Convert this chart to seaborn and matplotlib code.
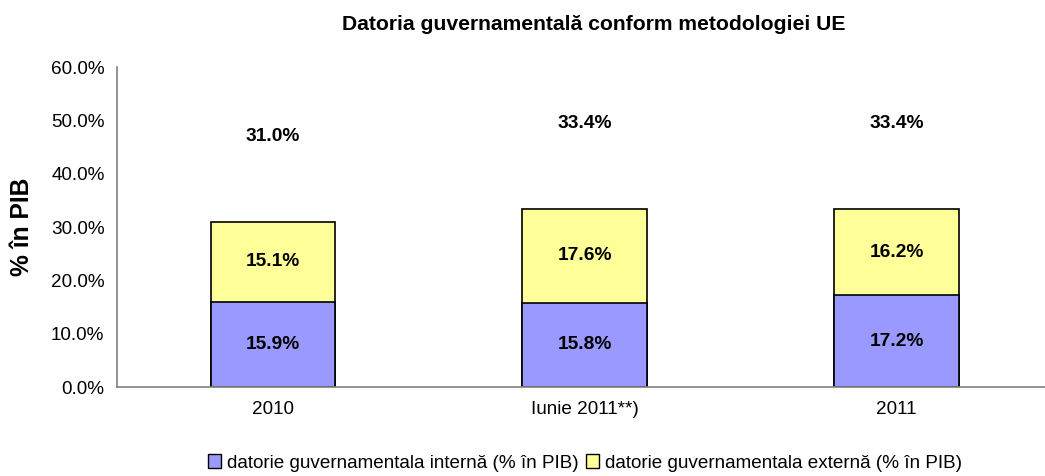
import matplotlib
matplotlib.use('Agg')
import matplotlib.pyplot as plt
import seaborn as sns
import pandas as pd
from matplotlib.patches import Patch
from matplotlib.ticker import FuncFormatter

categories = ['2010', 'Iunie 2011**)', '2011']
interna = [15.9, 15.8, 17.2]
externa = [15.1, 17.6, 16.2]
totals = [31.0, 33.4, 33.4]
series_names = ['datorie guvernamentala internă (% în PIB)',
                'datorie guvernamentala externă (% în PIB)']

sns.set_style('white')
plt.rcParams['font.family'] = ['Liberation Sans', 'DejaVu Sans']
plt.rcParams['text.color'] = 'black'
plt.rcParams['xtick.color'] = 'black'
plt.rcParams['ytick.color'] = 'black'

df = pd.DataFrame({'cat': categories, 'interna': interna,
                   'externa': externa, 'total': totals})

blue = '#9999FF'
yellow = '#FFFF99'

fig = plt.figure(figsize=(10.45, 4.76), dpi=100)
ax = fig.add_axes([117 / 1045, 1 - 387 / 476, 1 - 117 / 1045, (387 - 67) / 476])

# stacked bars: full height in yellow, lower part in blue on top
sns.barplot(data=df, x='cat', y='total', color=yellow, saturation=1,
            width=0.4, edgecolor='black', linewidth=1.2, ax=ax)
sns.barplot(data=df, x='cat', y='interna', color=blue, saturation=1,
            width=0.4, edgecolor='black', linewidth=1.2, ax=ax)

for i in range(len(categories)):
    ax.text(i, interna[i] / 2, f'{interna[i]:.1f}%', ha='center', va='center',
            fontsize=13.8, fontweight='bold')
    ax.text(i, interna[i] + externa[i] / 2, f'{externa[i]:.1f}%', ha='center',
            va='center', fontsize=13.8, fontweight='bold')
    ax.text(i, totals[i] + 16, f'{totals[i]:.1f}%', ha='center', va='center',
            fontsize=13.8, fontweight='bold')

ax.set_ylim(0, 60)
ax.set_xlim(-0.5, 2.476)
ax.set_yticks(range(0, 61, 10))
ax.yaxis.set_major_formatter(FuncFormatter(lambda v, p: f'{v:.1f}%'))
ax.set_xticks([0.5, 1.5], minor=True)
ax.tick_params(axis='x', which='major', length=0, pad=10, labelsize=13.6)
ax.tick_params(axis='x', which='minor', length=5, color='#808080', direction='out')
ax.tick_params(axis='y', length=5, color='#808080', direction='out', labelsize=13.6, pad=4)
ax.set_xlabel('')
ax.set_ylabel('')

for s in ['top', 'right']:
    ax.spines[s].set_visible(False)
for s in ['left', 'bottom']:
    ax.spines[s].set_color('#808080')
    ax.spines[s].set_linewidth(1.2)

fig.text(594 / 1045, 1 - 25 / 476, 'Datoria guvernamentală conform metodologiei UE',
         ha='center', va='center', fontsize=15.2, fontweight='bold')
fig.text(22 / 1045, 1 - 227 / 476, '% în PIB', rotation=90, ha='center',
         va='center', fontsize=17.7, fontweight='bold')

handles = [Patch(facecolor=blue, edgecolor='black', linewidth=1),
           Patch(facecolor=yellow, edgecolor='black', linewidth=1)]
fig.legend(handles, series_names, loc='center', bbox_to_anchor=(585 / 1045, 1 - 463 / 476),
           ncol=2, frameon=False, fontsize=13.6, handlelength=0.7, handleheight=0.7,
           handletextpad=0.3, columnspacing=0.4, borderaxespad=0)

fig.savefig('out.png', dpi=100)
